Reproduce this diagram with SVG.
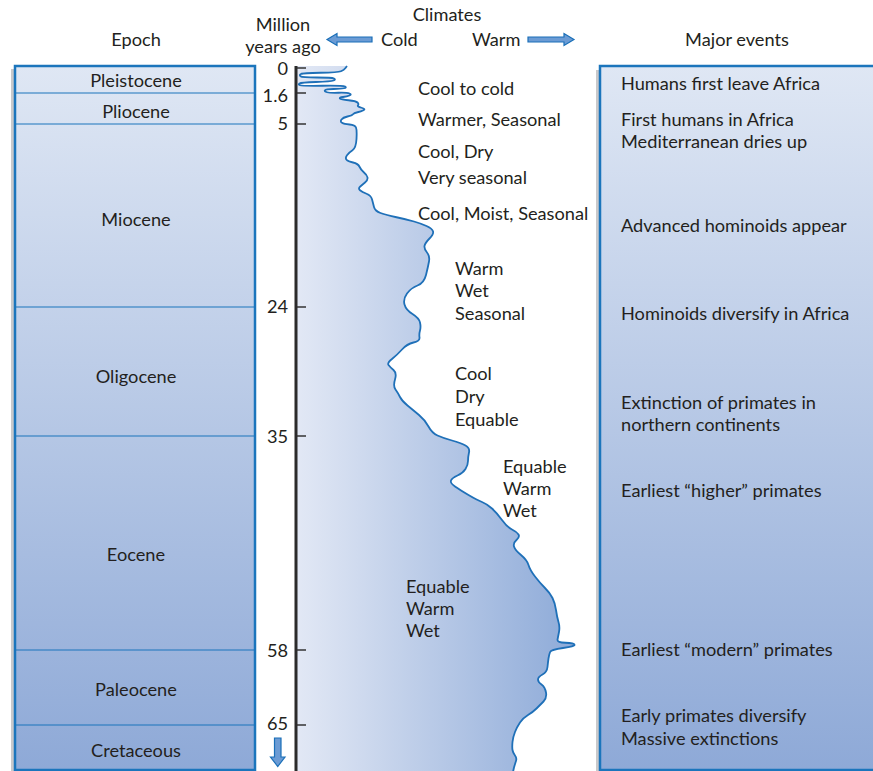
<svg xmlns="http://www.w3.org/2000/svg" width="873" height="771" viewBox="0 0 873 771">
  <style>
    .t { font-family: Lato, "Liberation Sans", sans-serif; font-size: 18.2px; fill: #231f20; }
    .c { text-anchor: middle; }
    .r { text-anchor: end; }
    .panel { fill: url(#panelFill); stroke: #1b75bc; stroke-width: 2.5; }
    .shadow { fill: #c9c9cb; }
    .div { stroke: #1b75bc; stroke-width: 1.2; }
    .tick { stroke: #333; stroke-width: 1.5; }
    .arrow { fill: #6b9bd4; stroke: #1a6fb8; stroke-width: 1.2; stroke-linejoin: miter; }
    .curve { fill: none; stroke: #1f70b8; stroke-width: 1.8; stroke-linejoin: round; }
  </style>
  <defs>
    <linearGradient id="panelFill" gradientUnits="userSpaceOnUse" x1="0" y1="66" x2="0" y2="771">
      <stop offset="0" stop-color="#dfe7f4"/>
      <stop offset="1" stop-color="#8ea9d7"/>
    </linearGradient>
    <linearGradient id="climateFill" gradientUnits="userSpaceOnUse" x1="297" y1="0" x2="576" y2="0">
      <stop offset="0" stop-color="#e2e8f5"/>
      <stop offset="1" stop-color="#8daad8"/>
    </linearGradient>
  </defs>

  <rect width="873" height="771" fill="#fff"/>

  <!-- column headings -->
  <g id="headings">
    <text class="t c" x="136" y="46">Epoch</text>
    <text class="t c" x="283" y="31">Million</text>
    <text class="t c" x="283" y="53">years ago</text>
    <text class="t c" x="447" y="21">Climates</text>
    <text class="t" x="381" y="46">Cold</text>
    <text class="t" x="472" y="46">Warm</text>
    <text class="t c" x="737" y="46">Major events</text>
    <polygon class="arrow" points="327,39.5 337,33.5 337,37 372,37 372,42 337,42 337,45.5"/>
    <polygon class="arrow" points="574,39.5 564,33.5 564,37 528,37 528,42 564,42 564,45.5"/>
  </g>

  <!-- epoch column -->
  <g id="epochs">
    <rect class="shadow" x="11" y="69" width="8" height="705"/>
    <rect class="panel" x="15" y="66" width="240" height="704"/>
    <line class="div" x1="15" y1="93" x2="255" y2="93"/>
    <line class="div" x1="15" y1="124" x2="255" y2="124"/>
    <line class="div" x1="15" y1="307" x2="255" y2="307"/>
    <line class="div" x1="15" y1="436" x2="255" y2="436"/>
    <line class="div" x1="15" y1="650" x2="255" y2="650"/>
    <line class="div" x1="15" y1="725" x2="255" y2="725"/>
    <text class="t c" x="136" y="87">Pleistocene</text>
    <text class="t c" x="136" y="118">Pliocene</text>
    <text class="t c" x="136" y="226">Miocene</text>
    <text class="t c" x="136" y="383">Oligocene</text>
    <text class="t c" x="136" y="561">Eocene</text>
    <text class="t c" x="136" y="696">Paleocene</text>
    <text class="t c" x="136" y="757">Cretaceous</text>
  </g>

  <!-- climate curve -->
  <g id="climate">
    <path fill="url(#climateFill)" d="M347,66 L345.5,68 Q344,70 341,71.25 Q338,72.5 320.5,72.75 Q303,73 301,74 Q299,75 300.5,76.25 Q302,77.5 317,77.5 Q332,77.5 334,78.5 Q336,79.5 333.5,80.5 Q331,81.5 316,82 Q301,82.5 299.5,83.5 Q298,84.5 300,85.25 Q302,86 322.5,85.75 Q343,85.5 345,86.5 Q347,87.5 344,88.25 Q341,89 333.5,89 Q326,89 325,90.25 Q324,91.5 327,92.25 Q330,93 338.5,92.75 Q347,92.5 349.5,93.5 Q352,94.5 349.5,95.5 Q347,96.5 343,97 Q339,97.5 340,98.5 Q341,99.5 348.5,100.25 Q356,101 357.5,102.5 Q359,104 358,105.25 Q357,106.5 361.5,107.75 Q366,109 363.5,110.25 Q361,111.5 357.5,112.25 Q354,113 353,114.25 Q352,115.5 347.5,116.5 Q343,117.5 341.5,119.5 Q340,121.5 342,122.75 Q344,124 349.5,124.5 Q355,125 356,127.5 Q357,130 356.5,139 Q356,148 352.5,150.25 Q349,152.5 347,155.25 Q345,158 346.5,159.75 Q348,161.5 353,162.5 Q358,163.5 359.5,166.75 Q361,170 364,172.5 Q367,175 367.5,177.5 Q368,180 365,182.5 Q362,185 360,186.75 Q358,188.5 360,190.25 Q362,192 366.5,193.75 Q371,195.5 372,199.25 Q373,203 374,207 Q375,211 380.5,213 Q386,215 396.5,217.25 Q407,219.5 414,221.5 Q421,223.5 426.5,226 Q432,228.5 433,231.25 Q434,234 429.5,238.5 Q425,243 424.5,246 Q424,249 427,252.5 Q430,256 429,261.5 Q428,267 426,275 Q424,283 417.5,285.5 Q411,288 407,293.5 Q403,299 404.5,304.5 Q406,310 412.5,314 Q419,318 420,322.5 Q421,327 420,330.5 Q419,334 419.5,337.5 Q420,341 413.5,342.5 Q407,344 402,349.5 Q397,355 392,359 Q387,363 388.5,365 Q390,367 393.5,370 Q397,373 395,379.5 Q393,386 395.5,389.5 Q398,393 400,397 Q402,401 407.5,405.5 Q413,410 419,415 Q425,420 428.5,426.5 Q432,433 437.5,435.5 Q443,438 452,440.5 Q461,443 465.5,445.5 Q470,448 469,452.5 Q468,457 468,461 Q468,465 465.5,469 Q463,473 457.5,475.5 Q452,478 451,480.5 Q450,483 455,486.5 Q460,490 468.5,495 Q477,500 482,502 Q487,504 492,508.5 Q497,513 502,520 Q507,527 512,529.5 Q517,532 518.5,534.5 Q520,537 516.5,540 Q513,543 514,546.5 Q515,550 521,555 Q527,560 528.5,565 Q530,570 535,576.5 Q540,583 545,588 Q550,593 552.5,598 Q555,603 556,610 Q557,617 558.5,622 Q560,627 559,632 Q558,637 557.5,639.75 Q557,642.5 565.5,642.75 Q574,643 574.5,644.75 Q575,646.5 563,648 Q551,649.5 550,652.25 Q549,655 548.5,658.5 Q548,662 547.5,667 Q547,672 542.5,674.5 Q538,677 538,679.5 Q538,682 541.5,684.5 Q545,687 546,692.5 Q547,698 543.5,701.5 Q540,705 536.5,708.5 Q533,712 528,715 Q523,718 520,722.5 Q517,727 515,732 Q513,737 512.5,742 Q512,747 512.5,750 Q513,753 515,755.5 Q517,758 516,761 Q515,764 514,767.5 L513,771 L513,775 L297,775 L297,66 Z"/>
    <path class="curve" d="M347,66 L345.5,68 Q344,70 341,71.25 Q338,72.5 320.5,72.75 Q303,73 301,74 Q299,75 300.5,76.25 Q302,77.5 317,77.5 Q332,77.5 334,78.5 Q336,79.5 333.5,80.5 Q331,81.5 316,82 Q301,82.5 299.5,83.5 Q298,84.5 300,85.25 Q302,86 322.5,85.75 Q343,85.5 345,86.5 Q347,87.5 344,88.25 Q341,89 333.5,89 Q326,89 325,90.25 Q324,91.5 327,92.25 Q330,93 338.5,92.75 Q347,92.5 349.5,93.5 Q352,94.5 349.5,95.5 Q347,96.5 343,97 Q339,97.5 340,98.5 Q341,99.5 348.5,100.25 Q356,101 357.5,102.5 Q359,104 358,105.25 Q357,106.5 361.5,107.75 Q366,109 363.5,110.25 Q361,111.5 357.5,112.25 Q354,113 353,114.25 Q352,115.5 347.5,116.5 Q343,117.5 341.5,119.5 Q340,121.5 342,122.75 Q344,124 349.5,124.5 Q355,125 356,127.5 Q357,130 356.5,139 Q356,148 352.5,150.25 Q349,152.5 347,155.25 Q345,158 346.5,159.75 Q348,161.5 353,162.5 Q358,163.5 359.5,166.75 Q361,170 364,172.5 Q367,175 367.5,177.5 Q368,180 365,182.5 Q362,185 360,186.75 Q358,188.5 360,190.25 Q362,192 366.5,193.75 Q371,195.5 372,199.25 Q373,203 374,207 Q375,211 380.5,213 Q386,215 396.5,217.25 Q407,219.5 414,221.5 Q421,223.5 426.5,226 Q432,228.5 433,231.25 Q434,234 429.5,238.5 Q425,243 424.5,246 Q424,249 427,252.5 Q430,256 429,261.5 Q428,267 426,275 Q424,283 417.5,285.5 Q411,288 407,293.5 Q403,299 404.5,304.5 Q406,310 412.5,314 Q419,318 420,322.5 Q421,327 420,330.5 Q419,334 419.5,337.5 Q420,341 413.5,342.5 Q407,344 402,349.5 Q397,355 392,359 Q387,363 388.5,365 Q390,367 393.5,370 Q397,373 395,379.5 Q393,386 395.5,389.5 Q398,393 400,397 Q402,401 407.5,405.5 Q413,410 419,415 Q425,420 428.5,426.5 Q432,433 437.5,435.5 Q443,438 452,440.5 Q461,443 465.5,445.5 Q470,448 469,452.5 Q468,457 468,461 Q468,465 465.5,469 Q463,473 457.5,475.5 Q452,478 451,480.5 Q450,483 455,486.5 Q460,490 468.5,495 Q477,500 482,502 Q487,504 492,508.5 Q497,513 502,520 Q507,527 512,529.5 Q517,532 518.5,534.5 Q520,537 516.5,540 Q513,543 514,546.5 Q515,550 521,555 Q527,560 528.5,565 Q530,570 535,576.5 Q540,583 545,588 Q550,593 552.5,598 Q555,603 556,610 Q557,617 558.5,622 Q560,627 559,632 Q558,637 557.5,639.75 Q557,642.5 565.5,642.75 Q574,643 574.5,644.75 Q575,646.5 563,648 Q551,649.5 550,652.25 Q549,655 548.5,658.5 Q548,662 547.5,667 Q547,672 542.5,674.5 Q538,677 538,679.5 Q538,682 541.5,684.5 Q545,687 546,692.5 Q547,698 543.5,701.5 Q540,705 536.5,708.5 Q533,712 528,715 Q523,718 520,722.5 Q517,727 515,732 Q513,737 512.5,742 Q512,747 512.5,750 Q513,753 515,755.5 Q517,758 516,761 Q515,764 514,767.5 L513,772"/>
    <text class="t" x="418" y="95">Cool to cold</text>
    <text class="t" x="418" y="126">Warmer, Seasonal</text>
    <text class="t" x="418" y="158">Cool, Dry</text>
    <text class="t" x="418" y="184">Very seasonal</text>
    <text class="t" x="418" y="220">Cool, Moist, Seasonal</text>
    <text class="t" x="455" y="275">Warm</text>
    <text class="t" x="455" y="297">Wet</text>
    <text class="t" x="455" y="320">Seasonal</text>
    <text class="t" x="455" y="380">Cool</text>
    <text class="t" x="455" y="403">Dry</text>
    <text class="t" x="455" y="426">Equable</text>
    <text class="t" x="503" y="473">Equable</text>
    <text class="t" x="503" y="495">Warm</text>
    <text class="t" x="503" y="517">Wet</text>
    <text class="t" x="406" y="593">Equable</text>
    <text class="t" x="406" y="615">Warm</text>
    <text class="t" x="406" y="637">Wet</text>
  </g>

  <!-- time axis -->
  <g id="axis">
    <line x1="296" y1="66" x2="296" y2="771" stroke="#2b2b2b" stroke-width="3"/>
    <line class="tick" x1="297" y1="68" x2="306" y2="68"/>
    <line class="tick" x1="297" y1="93" x2="306" y2="93"/>
    <line class="tick" x1="297" y1="124" x2="306" y2="124"/>
    <line class="tick" x1="297" y1="307" x2="306" y2="307"/>
    <line class="tick" x1="297" y1="436" x2="306" y2="436"/>
    <line class="tick" x1="297" y1="650" x2="306" y2="650"/>
    <line class="tick" x1="297" y1="725" x2="306" y2="725"/>
    <text class="t r" x="288" y="75">0</text>
    <text class="t r" x="288" y="102">1.6</text>
    <text class="t r" x="288" y="130">5</text>
    <text class="t r" x="288" y="313">24</text>
    <text class="t r" x="288" y="443">35</text>
    <text class="t r" x="288" y="657">58</text>
    <text class="t r" x="288" y="730">65</text>
    <polygon class="arrow" points="274.5,738 281,738 281,757 285,757 277.75,766.5 270.5,757 274.5,757"/>
  </g>

  <!-- events column -->
  <g id="events">
    <rect class="shadow" x="596" y="70" width="8" height="705"/>
    <rect class="panel" x="600" y="66" width="290" height="704"/>
    <text class="t" x="621" y="90">Humans first leave Africa</text>
    <text class="t" x="621" y="126">First humans in Africa</text>
    <text class="t" x="621" y="148">Mediterranean dries up</text>
    <text class="t" x="621" y="232">Advanced hominoids appear</text>
    <text class="t" x="621" y="320">Hominoids diversify in Africa</text>
    <text class="t" x="621" y="409">Extinction of primates in</text>
    <text class="t" x="621" y="431">northern continents</text>
    <text class="t" x="621" y="497">Earliest “higher” primates</text>
    <text class="t" x="621" y="656">Earliest “modern” primates</text>
    <text class="t" x="621" y="722">Early primates diversify</text>
    <text class="t" x="621" y="745">Massive extinctions</text>
  </g>
</svg>
